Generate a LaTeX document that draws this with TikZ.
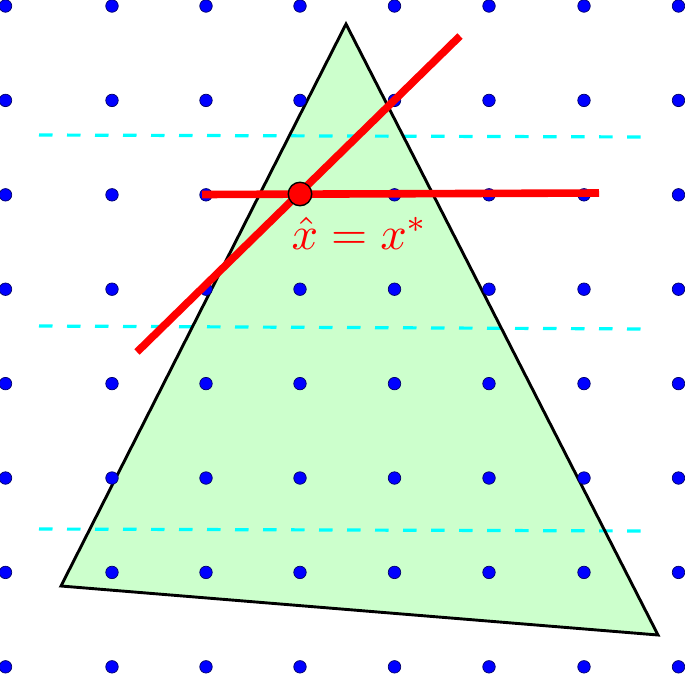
\documentclass[tikz,border=0pt]{standalone}
\definecolor{guidecyan}{RGB}{0,255,255}
\definecolor{regiongreen}{RGB}{204,255,204}
\begin{document}
\begin{tikzpicture}[x=1pt,y=-1pt,
  dot/.style={circle,fill=blue,draw=black!60!blue,line width=0.7pt,inner sep=0pt,minimum size=12.5pt},
  guide/.style={guidecyan,line width=3.2pt,dash pattern=on 13.5pt off 14.5pt},
  redline/.style={red,line width=7.6pt},
  opt/.style={circle,fill=red,draw=black,line width=1.4pt,inner sep=0pt,minimum size=23.5pt}]
\useasboundingbox (0,0) rectangle (685,673);
% feasible region
\coordinate (A) at (346,24);
\coordinate (B) at (61,586);
\coordinate (C) at (658,635);
\fill[regiongreen] (A) -- (B) -- (C) -- cycle;
% dashed guides
\coordinate (g1a) at (39,135); \coordinate (g1b) at (648,137);
\coordinate (g2a) at (39,326); \coordinate (g2b) at (648,329);
\coordinate (g3a) at (39,529); \coordinate (g3b) at (648,531);
\draw[guide] (g1a) -- (g1b);
\draw[guide] (g2a) -- (g2b);
\draw[guide] (g3a) -- (g3b);
\draw[black,line width=2.9pt,line join=miter] (A) -- (B) -- (C) -- cycle;
% lattice
\foreach \x [count=\i] in {5.5,112,206,300,394.5,489,584,678.5}{
  \foreach \y [count=\j] in {6,100.4,194.8,289.2,383.6,478,572.4,666.8}{
    \node[dot] (d-\i-\j) at (\x,\y) {};
  }
}
% red lines
\coordinate (r1a) at (137,352);
\coordinate (r1b) at (460,36);
\coordinate (r2a) at (202,194.5);
\coordinate (r2b) at (599,193);
\draw[redline] (r1a) -- (r1b);
\draw[redline] (r2a) -- (r2b);
\node[opt] (xhat) at (300,194) {};
\node[red,scale=4.65] (lab) at (360,233) {$\hat{x}=x^{*}$};
\end{tikzpicture}
\end{document}
